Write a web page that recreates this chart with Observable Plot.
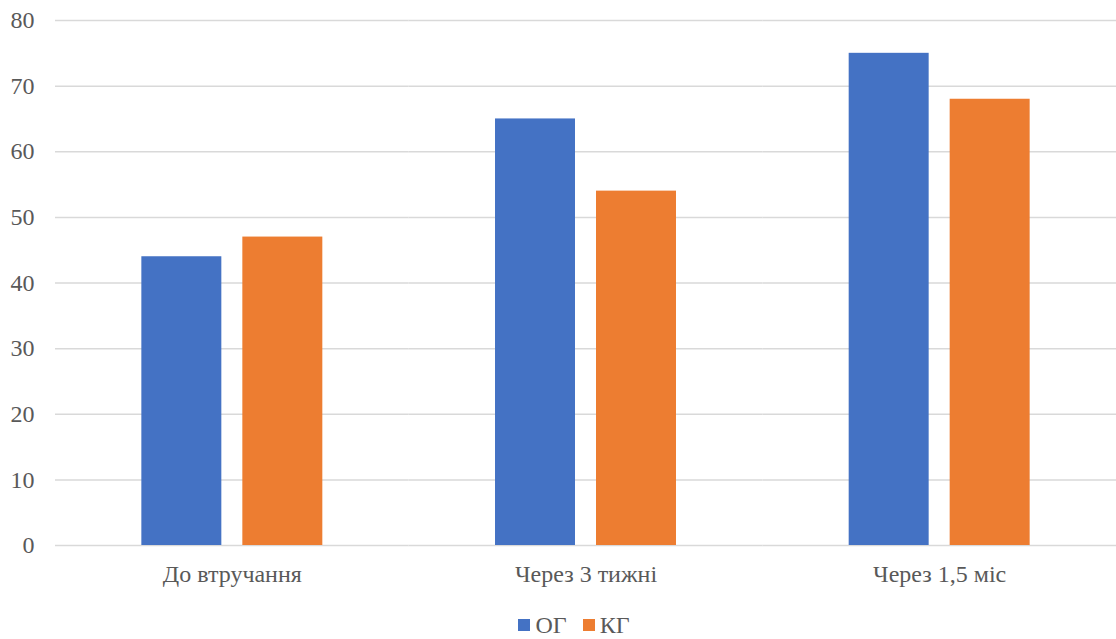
<!DOCTYPE html>
<html>
<head>
<meta charset="utf-8">
<script src="https://cdn.jsdelivr.net/npm/d3@7"></script>
<script src="https://cdn.jsdelivr.net/npm/@observablehq/plot@0.6"></script>
<style>
  html, body { margin: 0; padding: 0; background: #fff; }
  #chart { width: 1116px; }
  #chart svg, #chart svg text { font-family: 'Liberation Serif', 'DejaVu Serif', serif !important; }
  .legend { display: flex; justify-content: center; align-items: center; height: 50px;
    font-family: 'Liberation Serif', 'DejaVu Serif', serif; font-size: 24px; color: #595959;
    padding-left: 32px; box-sizing: border-box; }
  .legend .item { display: flex; align-items: center; margin: 0 8px; }
  .legend .sw { width: 12px; height: 12px; margin-right: 5px; }
</style>
</head>
<body>
<div id="chart"></div>
<script>
const categories = ["До втручання", "Через 3 тижні", "Через 1,5 міс"];
const series = ["ОГ", "КГ"];
const ogValues = [44, 65, 75];
const kgValues = [47, 54, 68];
const colors = ["#4472C4", "#ED7D31"];
const yTicks = [0, 10, 20, 30, 40, 50, 60, 70, 80];

const data = [];
categories.forEach((c, i) => {
  data.push({category: c, series: series[0], value: ogValues[i]});
  data.push({category: c, series: series[1], value: kgValues[i]});
});

const chart = Plot.plot({
  width: 1116,
  height: 600,
  marginLeft: 55,
  marginRight: 0,
  marginTop: 20,
  marginBottom: 55,
  style: {fontSize: "24px", color: "#595959", background: "#fff"},
  fx: {domain: categories, padding: 0, round: false, label: null, axis: "bottom", tickSize: 0, tickPadding: 19},
  x: {domain: series, paddingInner: 0.208, paddingOuter: 0.855, round: false, axis: null},
  y: {domain: [0, 80], ticks: yTicks, label: null, tickSize: 0, tickPadding: 21},
  color: {domain: series, range: colors},
  marks: [
    Plot.ruleY(yTicks, {stroke: "#d9d9d9", strokeWidth: 1.5}),
    Plot.barY(data, {fx: "category", x: "series", y: "value", fill: "series"})
  ]
});
document.getElementById("chart").appendChild(chart);

const legend = document.createElement("div");
legend.className = "legend";
series.forEach((s, i) => {
  const item = document.createElement("div");
  item.className = "item";
  const sw = document.createElement("div");
  sw.className = "sw";
  sw.style.background = colors[i];
  const t = document.createElement("span");
  t.textContent = s;
  item.appendChild(sw);
  item.appendChild(t);
  legend.appendChild(item);
});
document.body.appendChild(legend);
</script>
</body>
</html>
